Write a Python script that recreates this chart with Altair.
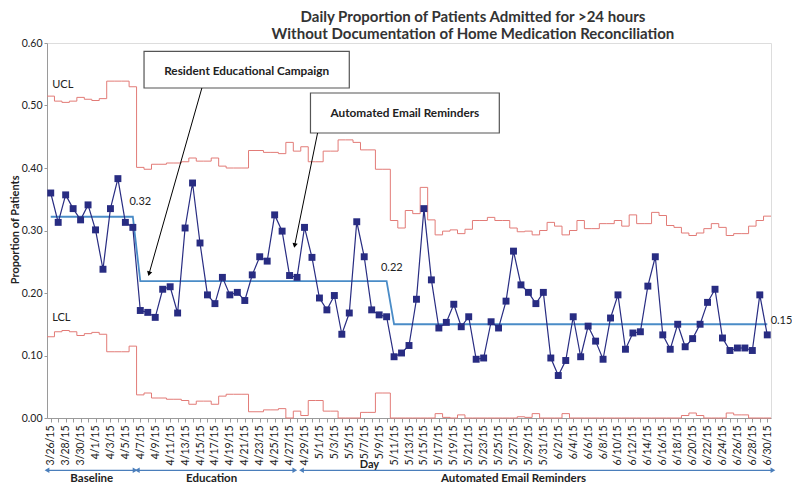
import json
import altair as alt
import pandas as pd

# ---------------- data ----------------
dates = pd.date_range("2015-03-26", "2015-06-30", freq="D")
day_labels = [f"{d.month}/{d.day}/{d.year % 100}" for d in dates]

proportion = [
    0.360, 0.313, 0.357, 0.335, 0.317, 0.341, 0.301, 0.238, 0.335, 0.383, 0.313, 0.305,
    0.172, 0.169, 0.161, 0.206, 0.210, 0.168, 0.304, 0.376, 0.280, 0.197, 0.183, 0.225,
    0.197, 0.201, 0.188, 0.229, 0.258, 0.251, 0.325, 0.299, 0.228, 0.225, 0.305, 0.257,
    0.192, 0.173, 0.196, 0.134, 0.168, 0.314, 0.258, 0.173, 0.165, 0.162,
    0.098, 0.104, 0.116, 0.190, 0.335, 0.221, 0.144, 0.153, 0.182, 0.146, 0.162, 0.094,
    0.096, 0.154, 0.144, 0.187, 0.267, 0.213, 0.201, 0.183, 0.201, 0.096, 0.068, 0.092,
    0.162, 0.098, 0.147, 0.123, 0.094, 0.160, 0.197, 0.110, 0.136, 0.138, 0.211, 0.258,
    0.133, 0.110, 0.150, 0.114, 0.127, 0.150, 0.185, 0.206, 0.128, 0.108, 0.112, 0.112,
    0.108, 0.197, 0.133,
]

ucl = [
    0.515, 0.507, 0.505, 0.507, 0.513, 0.510, 0.508, 0.511, 0.539, 0.539, 0.539, 0.530,
    0.401, 0.398, 0.406, 0.406, 0.408, 0.408, 0.410, 0.416, 0.411, 0.411, 0.416, 0.403,
    0.400, 0.400, 0.400, 0.428, 0.428, 0.425, 0.425, 0.423, 0.441, 0.427, 0.434, 0.410,
    0.410, 0.427, 0.427, 0.445, 0.445, 0.441, 0.429, 0.429, 0.398, 0.398,
    0.316, 0.304, 0.332, 0.327, 0.369, 0.317, 0.293, 0.299, 0.301, 0.295, 0.302, 0.316,
    0.316, 0.321, 0.316, 0.316, 0.304, 0.298, 0.299, 0.293, 0.300, 0.313, 0.307, 0.293,
    0.300, 0.316, 0.303, 0.303, 0.311, 0.311, 0.316, 0.307, 0.325, 0.311, 0.311, 0.329,
    0.324, 0.308, 0.305, 0.296, 0.292, 0.296, 0.303, 0.311, 0.305, 0.292, 0.295, 0.295,
    0.307, 0.316, 0.323,
]

lcl = [
    0.130, 0.138, 0.140, 0.138, 0.132, 0.135, 0.137, 0.134, 0.106, 0.106, 0.106, 0.115,
    0.037, 0.040, 0.032, 0.032, 0.030, 0.030, 0.028, 0.022, 0.027, 0.027, 0.022, 0.035,
    0.038, 0.038, 0.038, 0.010, 0.010, 0.013, 0.013, 0.015, 0.000, 0.011, 0.004, 0.028,
    0.028, 0.011, 0.011, 0.000, 0.000, 0.000, 0.009, 0.009, 0.040, 0.040,
    0.000, 0.000, 0.000, 0.000, 0.000, 0.000, 0.007, 0.001, 0.000, 0.005, 0.000, 0.000,
    0.000, 0.000, 0.000, 0.000, 0.000, 0.002, 0.001, 0.007, 0.000, 0.000, 0.000, 0.007,
    0.000, 0.000, 0.000, 0.000, 0.000, 0.000, 0.000, 0.000, 0.000, 0.000, 0.000, 0.000,
    0.000, 0.000, 0.000, 0.004, 0.008, 0.004, 0.000, 0.000, 0.000, 0.008, 0.005, 0.005,
    0.000, 0.000, 0.000,
]

phase_names = ["Baseline", "Education", "Automated Email Reminders"]
phase_days = [12, 34, 51]
phase_means = [0.322, 0.219, 0.150]
mean_labels = ["0.32", "0.22", "0.15"]

y_ticks = [0.0, 0.1, 0.2, 0.3, 0.4, 0.5, 0.6]
title_lines = ["Daily Proportion of Patients Admitted for >24 hours",
               "Without Documentation of Home Medication Reconciliation"]
box_texts = ["Resident Educational Campaign", "Automated Email Reminders"]

# ---------------- tables ----------------
n = len(proportion)
idx = list(range(n))
center = []
for m, k in zip(phase_means, phase_days):
    center += [m] * k

main = pd.DataFrame({"i": idx, "p": proportion, "c": center})
steps = pd.DataFrame({
    "i": [k - 0.5 for k in idx] + [n - 0.5],
    "ucl": ucl + [ucl[-1]],
    "lcl": lcl + [lcl[-1]],
})

FONT = "Lato"
NAVY = "#282c82"
RED = "#e27b77"
BLUE = "#4a8cc7"
ARROWBLUE = "#4a7ebb"
GRAY = "#9a9a9a"

tick_text = [lab if k % 2 == 0 else "" for k, lab in enumerate(day_labels)]
XS = alt.Scale(domain=[-0.5, n - 0.5], nice=False, zero=False)
YS = alt.Scale(domain=[0, 0.6], nice=False, zero=False)
XA = alt.Axis(values=idx, labelExpr=json.dumps(tick_text) + "[datum.value]",
              labelAngle=270, labelFontSize=10.5, labelPadding=3, tickSize=4,
              labelOverlap=False, labelFlush=False, labelBound=False,
              grid=False, title=None, domainColor=GRAY, tickColor=GRAY,
              labelColor="#222", labelFont=FONT)
YA = alt.Axis(values=y_ticks, format=".2f", labelFontSize=10.5, labelPadding=2,
              tickSize=3, grid=False, title=None, domainColor=GRAY, tickColor=GRAY,
              labelColor="#222", labelFont=FONT)


def X(f):
    return alt.X(f, type="quantitative", scale=XS, axis=XA)


def Y(f):
    return alt.Y(f, type="quantitative", scale=YS, axis=YA)


layers = []

# control limits
layers.append(alt.Chart(steps).mark_line(interpolate="step-after", color=RED, strokeWidth=1)
              .encode(x=X("i"), y=Y("ucl")))
layers.append(alt.Chart(steps).mark_line(interpolate="step-after", color=RED, strokeWidth=1)
              .encode(x=X("i"), y=Y("lcl")))
# center line
layers.append(alt.Chart(main).mark_line(color=BLUE, strokeWidth=1.8)
              .encode(x=X("i"), y=Y("c")))
# data
layers.append(alt.Chart(main).mark_line(color=NAVY, strokeWidth=1.2)
              .encode(x=X("i"), y=Y("p")))
layers.append(alt.Chart(main).mark_point(shape="square", filled=True, size=48,
                                         color=NAVY, opacity=1)
              .encode(x=X("i"), y=Y("p")))


def text_layer(rows, **kw):
    df = pd.DataFrame(rows, columns=["i", "v", "t"])
    base = dict(font=FONT, color="#222")
    base.update(kw)
    return alt.Chart(df).mark_text(**base).encode(x=X("i"), y=Y("v"), text="t:N")


# UCL / LCL labels
layers.append(text_layer([[0.2, 0.533, "UCL"], [0.2, 0.160, "LCL"]],
                         align="left", baseline="middle", fontSize=11))
# mean labels
layers.append(text_layer([[12.0, 0.345, mean_labels[0]], [45.7, 0.240, mean_labels[1]]],
                         align="center", baseline="middle", fontSize=11))
layers.append(text_layer([[96.45, 0.1546, mean_labels[2]]],
                         align="left", baseline="middle", fontSize=11))

# annotation boxes
boxes = pd.DataFrame({"x1": [12.5, 34.8], "x2": [40.0, 60.1],
                      "y1": [0.5866, 0.520], "y2": [0.528, 0.456]})
layers.append(alt.Chart(boxes).mark_rect(fill="white", stroke="#555", strokeWidth=1.2)
              .encode(x=X("x1"), x2="x2", y=Y("y1"), y2="y2"))
layers.append(text_layer([[26.25, 0.556, box_texts[0]], [47.45, 0.488, box_texts[1]]],
                         align="center", baseline="middle", fontSize=11.8,
                         fontWeight="bold"))

# callout arrows
arrows = pd.DataFrame({"x1": [20.25, 35.75], "y1": [0.528, 0.456],
                       "x2": [13.2, 32.7], "y2": [0.232, 0.2773]})
layers.append(alt.Chart(arrows).mark_rule(color="black", strokeWidth=1)
              .encode(x=X("x1"), y=Y("y1"), x2="x2", y2="y2"))
for k, ang in zip(range(2), [195.8, 191.5]):
    layers.append(alt.Chart(arrows.iloc[[k]]).mark_point(shape="triangle", filled=True,
                                                          size=28, color="black",
                                                          opacity=1, angle=ang)
                  .encode(x=X("x2"), y=Y("y2")))

# phase arrows below axis
PH_Y = -0.0837
phases = pd.DataFrame({"a": [-0.5, 11.6, 33.6], "b": [11.3, 32.7, 96.76],
                       "v": [PH_Y] * 3})
layers.append(alt.Chart(phases).mark_rule(color=ARROWBLUE, strokeWidth=1.3)
              .encode(x=X("a"), x2="b", y=Y("v")))
layers.append(alt.Chart(phases).mark_point(shape="triangle-left", filled=True, size=30,
                                           color=ARROWBLUE, opacity=1)
              .encode(x=X("a"), y=Y("v")))
layers.append(alt.Chart(phases).mark_point(shape="triangle-right", filled=True, size=30,
                                           color=ARROWBLUE, opacity=1)
              .encode(x=X("b"), y=Y("v")))
layers.append(text_layer([[5.5, -0.0975, phase_names[0]], [21.55, -0.0975, phase_names[1]],
                          [62.0, -0.0975, phase_names[2]]],
                         align="center", baseline="middle", fontSize=11.5,
                         fontWeight="bold"))
# "Day" axis title
layers.append(text_layer([[42.7, -0.0747, "Day"]], align="center", baseline="middle",
                         fontSize=11, fontWeight="bold"))
# y-axis title
layers.append(text_layer([[-4.72, 0.301, "Proportion of Patients"]], align="center",
                         baseline="middle", fontSize=11, fontWeight="bold", angle=270))
# chart title
layers.append(text_layer([[56.57, 0.6421, title_lines[0]], [56.57, 0.6149, title_lines[1]]],
                         align="center", baseline="middle", fontSize=15,
                         fontWeight="bold", color="#333"))

chart = (alt.layer(*layers)
         .properties(width=724, height=375,
                     padding={"left": 39, "top": 35, "right": 21, "bottom": 67},
                     autosize=alt.AutoSizeParams(type="none"))
         .configure_view(stroke=None)
         .configure(font=FONT))

chart.save("out.html", embed_options={"renderer": "svg", "actions": False})
